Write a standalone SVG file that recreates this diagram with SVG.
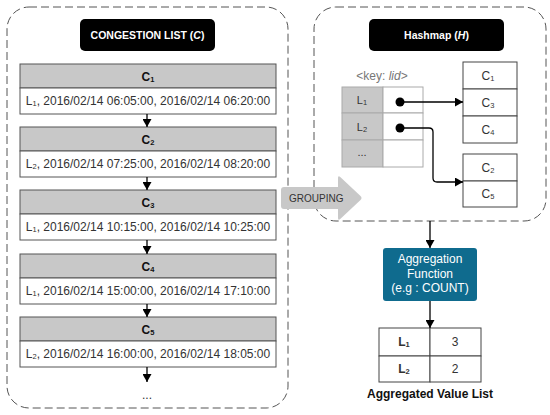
<svg xmlns="http://www.w3.org/2000/svg" width="550" height="415" viewBox="0 0 550 415">
<defs>
<marker id="ah" markerUnits="userSpaceOnUse" markerWidth="8" markerHeight="9" refX="8" refY="4.5" orient="auto">
<path d="M0,0 L8,4.5 L0,9 Z" fill="#000"/>
</marker>
<style>
text{font-family:"Liberation Sans",Arial,sans-serif;fill:#333}
.cont{fill:none;stroke:#555;stroke-width:1;stroke-dasharray:8,4}
.hdr{fill:#c8c8c8;stroke:#555;stroke-width:1}
.row{fill:#fff;stroke:#555;stroke-width:1}
.ht{font-size:12px;font-weight:bold;text-anchor:middle;fill:#111}
.dt{font-size:12px;text-anchor:middle}
.title{font-size:10.5px;font-weight:bold;fill:#fff;text-anchor:middle}
.sub{font-size:7.5px}
.conn{fill:none;stroke:#000;stroke-width:1.3}
.kcell{stroke:#aaa;stroke-width:1}
.bcell{fill:#fff;stroke:#444;stroke-width:1}
.ct{font-size:12px;text-anchor:middle}
</style>
</defs>
<rect width="550" height="415" fill="#fff"/>

<g id="congestion-list">
<rect class="cont" x="7" y="7" width="281" height="401" rx="22"/>
<rect x="80" y="19" width="135" height="32" rx="5" fill="#000"/>
<text class="title" x="147.5" y="39">CONGESTION LIST (<tspan font-style="italic">C</tspan>)</text>
</g>

<g id="c1">
<rect class="hdr" x="20" y="64" width="256" height="24"/>
<rect class="row" x="20" y="88" width="256" height="26"/>
<text class="ht" x="148" y="80.5">C<tspan class="sub" dy="1">1</tspan></text>
<text class="dt" x="148" y="105">L<tspan class="sub" dy="1">1</tspan><tspan dy="-1">, 2016/02/14 06:05:00, 2016/02/14 06:20:00</tspan></text>
</g>
<g id="c2">
<rect class="hdr" x="20" y="127" width="256" height="24"/>
<rect class="row" x="20" y="151" width="256" height="26"/>
<text class="ht" x="148" y="143.5">C<tspan class="sub" dy="1">2</tspan></text>
<text class="dt" x="148" y="168">L<tspan class="sub" dy="1">2</tspan><tspan dy="-1">, 2016/02/14 07:25:00, 2016/02/14 08:20:00</tspan></text>
</g>
<g id="c3">
<rect class="hdr" x="20" y="190" width="256" height="24"/>
<rect class="row" x="20" y="214" width="256" height="26"/>
<text class="ht" x="148" y="206.5">C<tspan class="sub" dy="1">3</tspan></text>
<text class="dt" x="148" y="231">L<tspan class="sub" dy="1">1</tspan><tspan dy="-1">, 2016/02/14 10:15:00, 2016/02/14 10:25:00</tspan></text>
</g>
<g id="c4">
<rect class="hdr" x="20" y="254" width="256" height="24"/>
<rect class="row" x="20" y="278" width="256" height="26"/>
<text class="ht" x="148" y="270.5">C<tspan class="sub" dy="1">4</tspan></text>
<text class="dt" x="148" y="295">L<tspan class="sub" dy="1">1</tspan><tspan dy="-1">, 2016/02/14 15:00:00, 2016/02/14 17:10:00</tspan></text>
</g>
<g id="c5">
<rect class="hdr" x="20" y="317" width="256" height="24"/>
<rect class="row" x="20" y="341" width="256" height="26"/>
<text class="ht" x="148" y="333.5">C<tspan class="sub" dy="1">5</tspan></text>
<text class="dt" x="148" y="358">L<tspan class="sub" dy="1">2</tspan><tspan dy="-1">, 2016/02/14 16:00:00, 2016/02/14 18:05:00</tspan></text>
</g>
<g id="more">
<text class="dt" x="147" y="399">...</text>
</g>

<g id="hashmap">
<rect class="cont" x="314" y="7" width="232" height="214" rx="22"/>
<rect x="369" y="19" width="135" height="32" rx="5" fill="#000"/>
<text class="title" x="436.5" y="39">Hashmap (<tspan font-style="italic">H</tspan>)</text>
<text x="382" y="80" font-size="12" style="fill:#777" text-anchor="middle">&lt;key: <tspan font-style="italic">lid</tspan>&gt;</text>
</g>

<g id="key-table">
<rect class="kcell" x="342" y="87" width="41" height="26" fill="#c8c8c8"/>
<rect class="kcell" x="383" y="87" width="40" height="26" fill="#fff"/>
<rect class="kcell" x="342" y="113" width="41" height="27" fill="#c8c8c8"/>
<rect class="kcell" x="383" y="113" width="40" height="27" fill="#fff"/>
<rect class="kcell" x="342" y="140" width="41" height="27" fill="#c8c8c8"/>
<rect class="kcell" x="383" y="140" width="40" height="27" fill="#fff"/>
<text class="ct" x="362" y="104" style="font-size:11px">L<tspan class="sub" dy="1">1</tspan></text>
<text class="ct" x="362" y="131" style="font-size:11px">L<tspan class="sub" dy="1">2</tspan></text>
<text class="ct" x="362" y="156" style="font-size:11px">...</text>
</g>

<g id="bucket-1">
<rect class="bcell" x="463" y="62" width="54" height="27"/>
<rect class="bcell" x="463" y="89" width="54" height="27"/>
<rect class="bcell" x="463" y="116" width="54" height="27"/>
<text class="ct" x="488" y="80">C<tspan class="sub" dy="1">1</tspan></text>
<text class="ct" x="488" y="107">C<tspan class="sub" dy="1">3</tspan></text>
<text class="ct" x="488" y="134">C<tspan class="sub" dy="1">4</tspan></text>
</g>
<g id="bucket-2">
<rect class="bcell" x="463" y="154" width="54" height="27"/>
<rect class="bcell" x="463" y="181" width="54" height="26"/>
<text class="ct" x="488" y="172">C<tspan class="sub" dy="1">2</tspan></text>
<text class="ct" x="488" y="198">C<tspan class="sub" dy="1">5</tspan></text>
</g>

<g id="grouping">
<path d="M284,187 L338,187 L338,178 Q338,175 340.5,177.3 L360.5,196 Q362.5,198 360.5,200 L340.5,218.7 Q338,221 338,218 L338,209 L284,209 Q281,209 281,206 L281,190 Q281,187 284,187 Z" fill="#c8c8c8"/>
<text x="289" y="202" style="font-size:10px">GROUPING</text>
</g>

<g id="aggregation-function">
<rect x="383" y="248" width="94" height="53" rx="3" fill="#0f6b8e"/>
<text x="430" y="263" style="font-size:12px;fill:#fff" text-anchor="middle">Aggregation</text>
<text x="430" y="277.5" style="font-size:12px;fill:#fff" text-anchor="middle">Function</text>
<text x="430" y="292" style="font-size:12px;fill:#fff" text-anchor="middle">(e.g : COUNT)</text>
</g>

<g id="aggregated-value-list">
<rect class="bcell" x="379" y="328" width="51" height="28"/>
<rect class="bcell" x="430" y="328" width="51" height="28"/>
<rect class="bcell" x="379" y="356" width="51" height="26"/>
<rect class="bcell" x="430" y="356" width="51" height="26"/>
<text class="ct" x="404" y="346" style="font-weight:bold">L<tspan class="sub" dy="1">1</tspan></text>
<text class="ct" x="455" y="346">3</text>
<text class="ct" x="404" y="373" style="font-weight:bold">L<tspan class="sub" dy="1">2</tspan></text>
<text class="ct" x="455" y="373">2</text>
<text x="430" y="398" text-anchor="middle" style="font-size:12px;font-weight:bold;fill:#111">Aggregated Value List</text>
</g>

<g id="connectors">
<line class="conn" x1="147" y1="114" x2="147" y2="127" marker-end="url(#ah)"/>
<line class="conn" x1="147" y1="177" x2="147" y2="190" marker-end="url(#ah)"/>
<line class="conn" x1="147" y1="240" x2="147" y2="254" marker-end="url(#ah)"/>
<line class="conn" x1="147" y1="304" x2="147" y2="317" marker-end="url(#ah)"/>
<line class="conn" x1="147" y1="367" x2="147" y2="382" marker-end="url(#ah)"/>
<circle cx="400" cy="102" r="4.5" fill="#000"/>
<circle cx="400" cy="128" r="4.5" fill="#000"/>
<line class="conn" x1="400" y1="102" x2="463" y2="102" marker-end="url(#ah)"/>
<path class="conn" d="M400,128 L429,128 Q433,128 433,132 L433,178 Q433,182 437,182 L463,182" marker-end="url(#ah)"/>
<line class="conn" x1="430" y1="221" x2="430" y2="248" marker-end="url(#ah)"/>
<line class="conn" x1="430" y1="301" x2="430" y2="328" marker-end="url(#ah)"/>
</g>
</svg>
